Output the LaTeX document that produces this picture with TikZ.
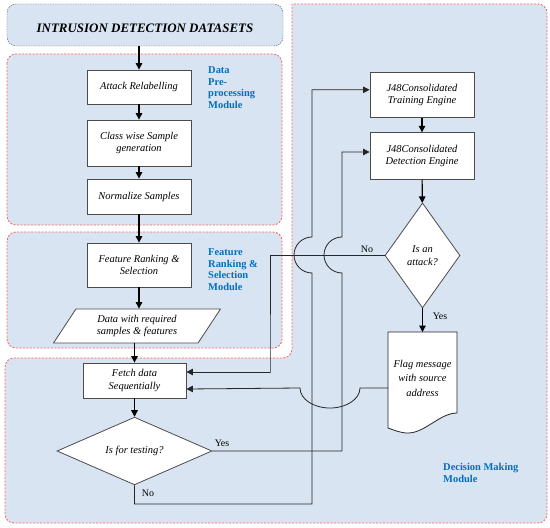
\documentclass[tikz,border=0pt]{standalone}
\usepackage{fontspec}
\setmainfont{Liberation Serif}
\usetikzlibrary{shapes.geometric,arrows.meta,positioning}
\definecolor{panelblue}{RGB}{217,228,242}
\definecolor{dashred}{RGB}{255,95,95}
\definecolor{textblue}{RGB}{0,112,192}
\definecolor{linegray}{RGB}{75,75,75}

\begin{document}
\begin{tikzpicture}[x=1bp,y=-1bp,
  panel/.style={fill=panelblue,draw=dashred,line width=0.8bp,dash pattern=on 2bp off 1.5bp,rounded corners=9bp},
  procbox/.style={draw=linegray,fill=white,line width=0.8bp,minimum width=104bp,inner sep=1bp,align=center,
    font=\fontsize{10.5}{12.5}\selectfont\itshape},
  decbox/.style={diamond,draw=linegray,fill=white,line width=0.8bp,inner sep=0pt,align=center,
    font=\fontsize{10.5}{12.5}\selectfont\itshape},
  modlabel/.style={anchor=north west,inner sep=0pt,align=left,text=textblue,font=\fontsize{10.5}{12}\selectfont\bfseries},
  flowarrow/.style={-{Triangle[length=6.5bp,width=6.5bp]},line width=1.2bp},
  link/.style={draw=black!85,line width=0.8bp},
  yesno/.style={inner sep=0pt,font=\fontsize{10}{12}\selectfont}]

  \useasboundingbox (0,0) rectangle (550,528);

  % module panels
  \draw[panel] (420,4) [rounded corners=9bp] -- (547,4) -- (547,523) -- (5,523) -- (5,358)
    -- (292,358) [sharp corners] -- (292,4) [rounded corners=9bp] -- cycle;
  \draw[panel] (7,54) rectangle (282,225);
  \draw[panel] (7,232) rectangle (282,348);

  \node[draw=black!65,dash pattern=on 1.5bp off 1bp,fill=panelblue,rounded corners=9bp,
    minimum width=276bp,minimum height=42bp,text height=16bp,text depth=0bp,
    font=\fontsize{13}{15}\selectfont\bfseries\itshape]
    (title) at (145,25) {INTRUSION DETECTION DATASETS};

  % left column
  \node[procbox,minimum height=34bp] (relabel) at (139,87) {Attack Relabelling};
  \node[procbox,minimum height=46bp] (classgen) at (139,143) {Class wise Sample\\generation};
  \node[procbox,minimum height=35bp] (normalize) at (139,196.5) {Normalize Samples};
  \node[procbox,minimum height=44bp] (rank) at (139,265) {Feature Ranking \&\\Selection};
  \node[trapezium,trapezium left angle=45,trapezium right angle=135,trapezium stretches body,
    draw=linegray,fill=white,line width=0.8bp,minimum width=167bp,minimum height=34bp,inner sep=0pt,
    align=center,font=\fontsize{10.5}{13}\selectfont\itshape] (dataset) at (137,326)
    {Data with required\\samples \& features};
  \node[procbox,minimum width=103bp,minimum height=35bp] (fetch) at (134.5,380.5) {Fetch data\\Sequentially};
  \node[decbox,minimum width=155bp,minimum height=66bp] (test) at (134.5,451) {Is for testing?};

  % right column
  \node[procbox,minimum height=45bp] (train) at (422,94.8) {J48Consolidated\\Training Engine};
  \node[procbox,minimum height=46.6bp] (det) at (422,156) {J48Consolidated\\Detection Engine};
  \node[decbox,minimum width=75bp,minimum height=105bp] (attack) at (422.5,255.5) {Is an\\attack?};
  \draw[link,fill=white] (388,332) -- (457,332) -- (457,413) .. controls (440,413) and (425,433) .. (408,433)
    .. controls (400,433) and (394,430) .. (388,428) -- cycle;
  \node[align=center,inner sep=0pt,font=\fontsize{10.5}{14.5}\selectfont\itshape] (flag) at (422.5,378)
    {Flag message\\with source\\address};

  % module labels
  \node[modlabel] (prelabel) at (208,66) {Data\\Pre-\\processing\\Module};
  \node[modlabel] (featlabel) at (208,248) {Feature\\Ranking \&\\Selection\\Module};
  \node[modlabel] (declabel) at (443,463) {Decision Making\\Module};

  \coordinate (flagtop) at (422.5,332);
  \coordinate (flagport) at (388,388);
  \coordinate (flagjump) at (360,388);
  \coordinate (nocorner) at (312,504);
  \coordinate (nojump) at (312,255);
  \coordinate (yesjump) at (342,255);
  \coordinate (noturn) at (270,372);

  % main flow
  \draw[flowarrow] (title.south -| relabel.north) -- (relabel);
  \draw[flowarrow] (relabel) -- (classgen);
  \draw[flowarrow] (classgen) -- (normalize);
  \draw[flowarrow] (normalize) -- (rank);
  \draw[flowarrow] (rank.south) -- (rank.south |- dataset.north);
  \draw[flowarrow] (dataset.south -| fetch.north) -- (fetch);
  \draw[flowarrow] (fetch) -- (test);
  \draw[flowarrow] (train) -- (det);
  \draw[flowarrow] (det) -- (attack);
  \draw[flowarrow] (attack) -- (flagtop);

  % draw branches with line jumps
  \draw[link,flowarrow,line width=0.8bp] (test.south) |- (nocorner) -- ([yshift=-18bp]nojump)
    arc[start angle=270,end angle=90,radius=18bp] |- ([yshift=5bp]train.west);
  \draw[link,flowarrow,line width=0.8bp] (test.east) -| ([yshift=-18bp]yesjump)
    arc[start angle=270,end angle=90,radius=18bp] |- ([yshift=4bp]det.west);
  \draw[link,flowarrow,line width=0.8bp] (attack.west) -| (noturn) |- ([yshift=8.5bp]fetch.east);
  \draw[link,flowarrow,line width=0.8bp] (flagport) -- (flagjump)
    arc[start angle=0,end angle=-180,x radius=30bp,y radius=20bp] -- ([yshift=-8.5bp]fetch.east);

  \node[yesno] (noattack) at (367,249) {No};
  \node[yesno] (yesattack) at (440,316) {Yes};
  \node[yesno] (yestest) at (222,443) {Yes};
  \node[yesno] (notest) at (148,493) {No};

\end{tikzpicture}
\end{document}
